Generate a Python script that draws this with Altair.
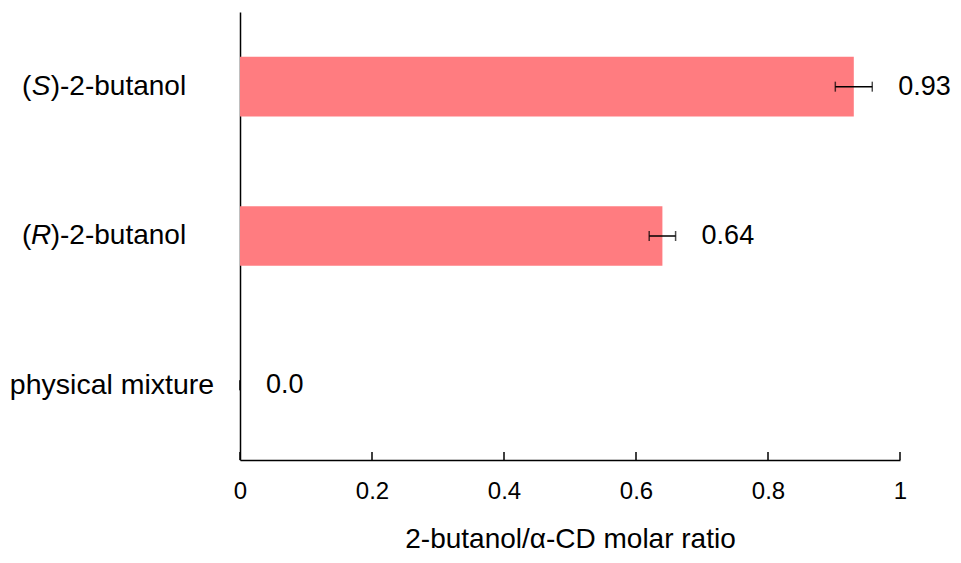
import altair as alt
import pandas as pd

CATEGORIES = ["(S)-2-butanol", "(R)-2-butanol", "physical mixture"]
VALUES = [0.93, 0.64, 0.0]
ERRORS = [0.028, 0.02, 0.0]
VALUE_LABELS = ["0.93", "0.64", "0.0"]
PRE = ["(", "(", ""]
ITAL = ["S", "R", ""]
POST = [")-2-butanol", ")-2-butanol", ""]
PLAIN = ["", "", "physical mixture"]
X_TICKS = [0, 0.2, 0.4, 0.6, 0.8, 1.0]

df = pd.DataFrame({
    "category": CATEGORIES,
    "value": VALUES,
    "err": ERRORS,
    "label": VALUE_LABELS,
    "pre": PRE,
    "ital": ITAL,
    "post": POST,
    "plain": PLAIN,
})
df["lo"] = df["value"] - df["err"]
df["hi"] = df["value"] + df["err"]
ticks_df = pd.DataFrame({"t": X_TICKS})

W, H = 660, 448
FONT = "Liberation Sans"

xscale = alt.Scale(domain=[0, 1], nice=False, zero=True)
yenc = alt.Y(
    "category:N",
    sort=CATEGORIES,
    scale=alt.Scale(domain=CATEGORIES, paddingInner=0.6, paddingOuter=0.3),
    axis=alt.Axis(title=None, labels=False, ticks=False, domain=True,
                  domainColor="black", domainWidth=1.5, grid=False),
)

base = alt.Chart(df).encode(y=yenc)

bars = base.mark_bar(color="#ff7c80").encode(
    x=alt.X(
        "value:Q",
        scale=xscale,
        axis=alt.Axis(
            values=X_TICKS, format="~g", ticks=False, grid=False,
            labelFontSize=24, labelPadding=19, labelColor="black",
            labelFont=FONT, labelFlush=False,
            title="2-butanol/α-CD molar ratio", titleFontSize=28,
            titleFontWeight="normal", titleColor="black", titleFont=FONT,
            titlePadding=22, domainColor="black", domainWidth=1.5,
        ),
    )
)

err_line = base.mark_rule(color="black", strokeWidth=1.5).encode(
    x="lo:Q", x2="hi:Q"
)
cap_lo = base.mark_tick(color="black", thickness=1.5, size=10).encode(x="lo:Q")
cap_hi = base.mark_tick(color="black", thickness=1.5, size=10).encode(x="hi:Q")

value_text = base.mark_text(
    align="left", baseline="middle", dx=26, fontSize=27, font=FONT, color="black"
).encode(x="hi:Q", text="label:N")

c = -199
lab_pre = base.mark_text(
    align="right", baseline="middle", dx=c - 9.7, fontSize=28, font=FONT, color="black"
).encode(x=alt.value(0), text="pre:N")
lab_ital = base.mark_text(
    align="center", baseline="middle", dx=c, fontSize=28, font=FONT,
    fontStyle="italic", color="black"
).encode(x=alt.value(0), text="ital:N")
lab_post = base.mark_text(
    align="left", baseline="middle", dx=c + 9.7, fontSize=28, font=FONT, color="black"
).encode(x=alt.value(0), text="post:N")
lab_plain = base.mark_text(
    align="center", baseline="middle", dx=-128, fontSize=28.5, font=FONT, color="black"
).encode(x=alt.value(0), text="plain:N")

tick_marks = alt.Chart(ticks_df).mark_rule(color="black", strokeWidth=1.5).encode(
    x=alt.X("t:Q", scale=xscale),
    y=alt.value(H - 8),
    y2=alt.value(H),
)

chart = alt.layer(
    bars, err_line, cap_lo, cap_hi, value_text,
    lab_pre, lab_ital, lab_post, lab_plain, tick_marks
).properties(
    width=W, height=H,
    autosize=alt.AutoSizeParams(type="none"),
    padding={"left": 232, "top": 4, "right": 53, "bottom": 95},
).configure(font=FONT).configure_view(stroke=None, strokeWidth=0)

chart.save("out.html", embed_options={"renderer": "svg", "actions": False})
